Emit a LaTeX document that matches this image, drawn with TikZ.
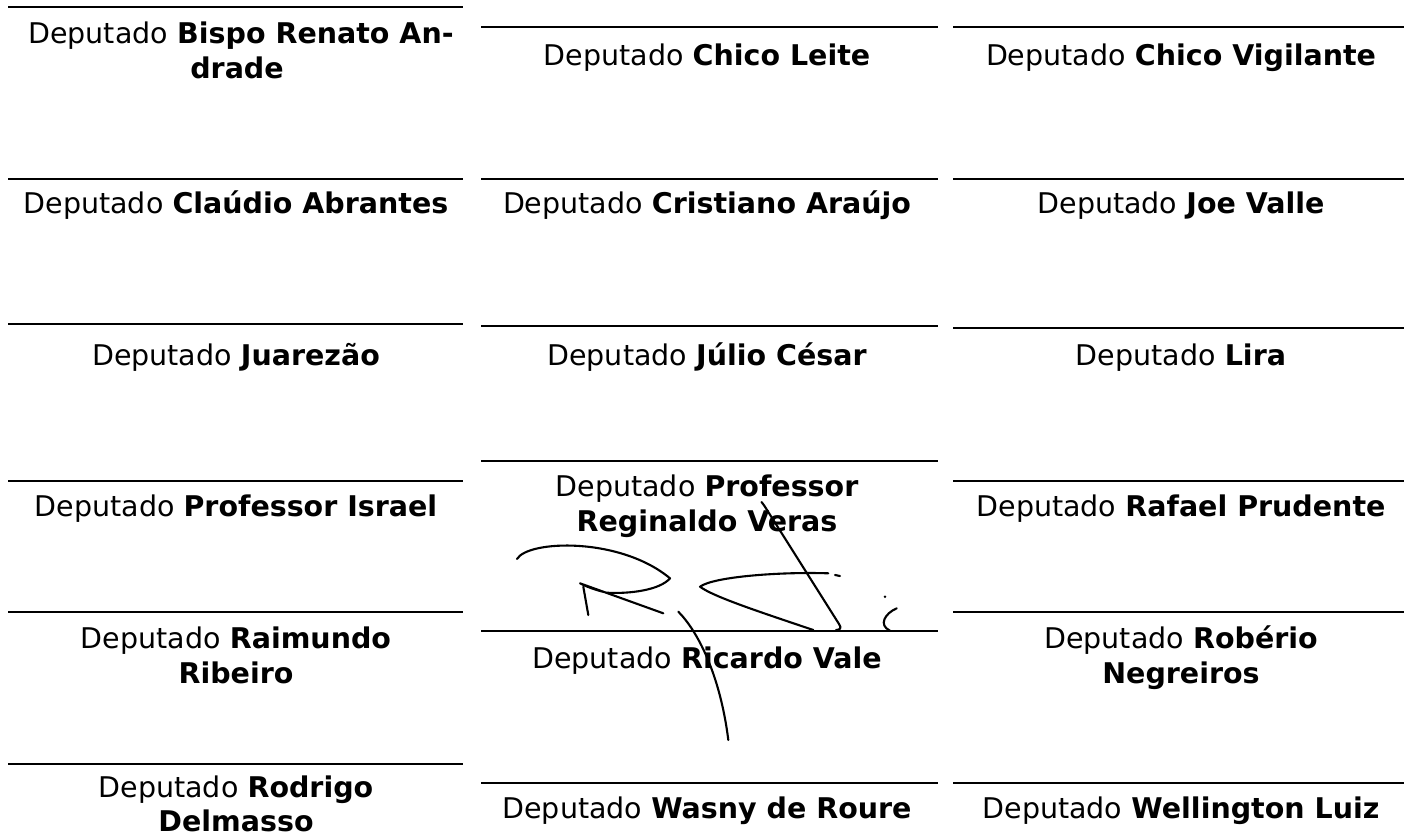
\documentclass[tikz,border=0pt]{standalone}
\usepackage{fontspec}
\setmainfont{DejaVu Sans}
\begin{document}
\begin{tikzpicture}[x=1pt,y=-1pt,
  rule/.style={line width=2pt},
  nm/.style={anchor=base, inner sep=0pt, font=\fontsize{28.5pt}{35pt}\selectfont},
  sig/.style={line width=2.1pt, line cap=round, line join=round}]
\useasboundingbox[fill=white] (0,0) rectangle (1404,839);
% signature lines
\foreach \xa/\xb/\y/\n in {
  8/463/7/a1, 8/463/179/a2, 8/463/324/a3, 8/463/481/a4, 8/463/612/a5, 8/463/764/a6,
  481/938/27/b1, 481/938/179/b2, 481/938/326/b3, 481/938/461/b4, 481/938/631/b5, 481/938/783/b6,
  953/1404/27/c1, 953/1404/179/c2, 953/1404/328/c3, 953/1404/481/c4, 953/1404/612/c5, 953/1404/783/c6}
{
  \coordinate (\n L) at (\xa,\y);
  \coordinate (\n R) at (\xb,\y);
  \draw[rule] (\n L) -- (\n R);
}
% column 1
\node[nm] (ta1) at (241,43) {Deputado \textbf{Bispo Renato An-}};
\node[nm] (ta1b) at (237,78) {\textbf{drade}};
\node[nm] (ta2) at (236,213) {Deputado \textbf{Claúdio Abrantes}};
\node[nm] (ta3) at (236,365) {Deputado \textbf{Juarezão}};
\node[nm] (ta4) at (236,516) {Deputado \textbf{Professor Israel}};
\node[nm] (ta5) at (236,648) {Deputado \textbf{Raimundo}};
\node[nm] (ta5b) at (236,683) {\textbf{Ribeiro}};
\node[nm] (ta6) at (236,797) {Deputado \textbf{Rodrigo}};
\node[nm] (ta6b) at (236,831) {\textbf{Delmasso}};
% column 2
\node[nm] (tb1) at (707,65) {Deputado \textbf{Chico Leite}};
\node[nm] (tb2) at (707,213) {Deputado \textbf{Cristiano Araújo}};
\node[nm] (tb3) at (707,365) {Deputado \textbf{Júlio César}};
\node[nm] (tb4) at (707,496) {Deputado \textbf{Professor}};
\node[nm] (tb4b) at (707,531) {\textbf{Reginaldo Veras}};
\node[nm] (tb5) at (707,668) {Deputado \textbf{Ricardo Vale}};
\node[nm] (tb6) at (707,818) {Deputado \textbf{Wasny de Roure}};
% column 3
\node[nm] (tc1) at (1181,65) {Deputado \textbf{Chico Vigilante}};
\node[nm] (tc2) at (1181,213) {Deputado \textbf{Joe Valle}};
\node[nm] (tc3) at (1181,365) {Deputado \textbf{Lira}};
\node[nm] (tc4) at (1181,516) {Deputado \textbf{Rafael Prudente}};
\node[nm] (tc5) at (1181,648) {Deputado \textbf{Robério}};
\node[nm] (tc5b) at (1181,683) {\textbf{Negreiros}};
\node[nm] (tc6) at (1181,818) {Deputado \textbf{Wellington Luiz}};
% handwritten signature
\draw[sig] (517,559) .. controls (528,540) and (620,536.7) .. (670,578.3)
  .. controls (660,590) and (630,594) .. (606.7,592.7)
  .. controls (595,590) and (585,586) .. (580,583.3) -- (663.3,613.3);
\draw[sig] (583.3,586.7) -- (588.3,615);
\draw[sig] (678.3,611.7) .. controls (696.7,630) and (720,673.3) .. (728.3,740);
\draw[sig] (828.3,573.3) .. controls (780,571.7) and (713.3,576.7) .. (700,586.7)
  .. controls (713.3,596.7) and (760,612) .. (813.3,630);
\draw[sig] (835,575) -- (840,576);
\draw[sig] (761.5,502) -- (764.5,506) -- (839,624) .. controls (842,628) and (840,630) .. (836,630);
\fill (885,596.7) circle (1.4pt);
\draw[sig] (896.7,608.3) .. controls (885,613.3) and (878,625) .. (890,630.7);
\end{tikzpicture}
\end{document}
